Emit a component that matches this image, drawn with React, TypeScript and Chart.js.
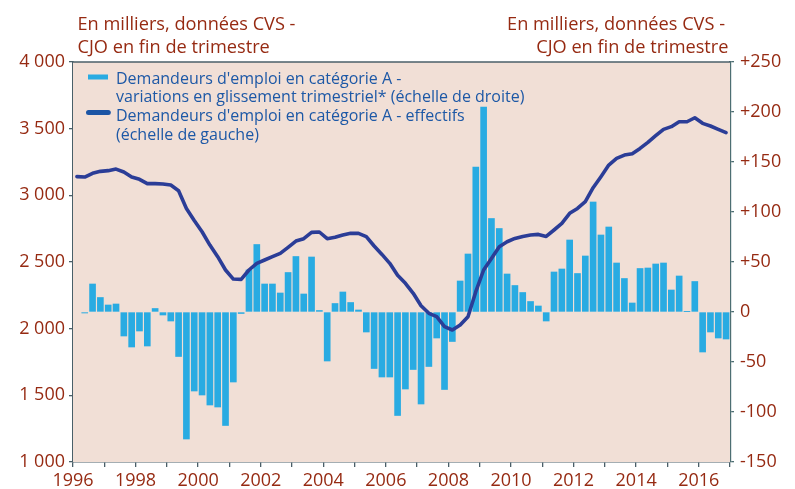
import React, { useEffect, useRef } from 'react';
import { Chart, registerables } from 'chart.js';

Chart.register(...registerables);

// ---- Data (quarterly, 1996 T1 -> 2016 T4) ----
const startYear = 1996;
const endYear = 2017;

// Demandeurs d'emploi en catégorie A - effectifs (milliers, échelle de gauche)
const effectifs = [
  3140, 3137, 3165, 3180, 3185, 3197, 3175, 3137, 3120, 3088,
  3088, 3085, 3077, 3035, 2902, 2812, 2727, 2627, 2540, 2440,
  2372, 2370, 2440, 2490, 2515, 2540, 2565, 2610, 2657, 2675,
  2722, 2725, 2675, 2685, 2702, 2715, 2715, 2690, 2620, 2557,
  2490, 2400, 2340, 2265, 2172, 2115, 2090, 2015, 1990, 2027,
  2090, 2277, 2440, 2527, 2615, 2652, 2677, 2692, 2702, 2707,
  2692, 2740, 2790, 2865, 2902, 2952, 3057, 3140, 3227, 3277,
  3302, 3312, 3352, 3397, 3447, 3495, 3515, 3552, 3552, 3582,
  3540, 3520, 3495, 3470,
];

// Variations en glissement trimestriel (milliers, échelle de droite)
const variations: (number | null)[] = [
  null, -1, 28, 14.5, 7, 8, -24, -35, -19, -34,
  3.5, -3, -9, -44.5, -127, -79, -83, -93, -95, -113.5,
  -70, -1.5, 42, 67.5, 28, 28, 19, 39.5, 55.5, 18,
  55, 1.5, -49, 8.5, 20, 9.5, 2, -20, -56.5, -65,
  -65, -103.5, -77, -57.5, -92, -54.5, -26, -77.5, -29.5, 31,
  58, 145, 205, 93.5, 83.5, 38, 26.5, 19.5, 10.5, 6,
  -9, 40, 43, 72, 38.5, 56, 110, 77, 85, 49,
  33.5, 9, 43.5, 44, 48, 49, 22, 36, 0.4, 30.5,
  -40, -20, -26, -27,
];

const leftAxis = { min: 1000, max: 4000, step: 500 };
const rightAxis = { min: -150, max: 250, step: 50 };

const titleLines = ['En milliers, données CVS -', 'CJO en fin de trimestre'];
const legendBarLines = [
  "Demandeurs d'emploi en catégorie A -",
  'variations en glissement trimestriel* (échelle de droite)',
];
const legendLineLines = [
  "Demandeurs d'emploi en catégorie A - effectifs",
  '(échelle de gauche)',
];

// ---- Styles ----
const FONT = '"Open Sans", "Noto Sans", sans-serif';
const RED = '#962a12';
const LEGEND_BLUE = '#1d58a6';
const BAR_COLOR = '#29abe2';
const LINE_COLOR = '#2b3d97';
const SWATCH_DARK = '#1c55a5';
const AXIS_COLOR = '#4a5f68';
const AXIS_RIGHT = '#4d6e72';
const PLOT_BG = '#f1dfd6';

const decorPlugin = {
  id: 'decor',
  beforeDatasetsDraw(chart: any) {
    const { ctx, chartArea: a } = chart;
    ctx.save();
    ctx.fillStyle = PLOT_BG;
    ctx.fillRect(a.left, a.top, a.right - a.left, a.bottom - a.top);
    ctx.restore();
  },
  afterDraw(chart: any) {
    const { ctx, chartArea: a } = chart;
    ctx.save();
    // top border
    ctx.strokeStyle = AXIS_COLOR;
    ctx.lineWidth = 1.3;
    ctx.beginPath();
    ctx.moveTo(a.left, a.top);
    ctx.lineTo(a.right, a.top);
    ctx.stroke();

    // titles
    ctx.fillStyle = RED;
    ctx.font = `18.2px ${FONT}`;
    ctx.textBaseline = 'alphabetic';
    ctx.textAlign = 'left';
    ctx.fillText(titleLines[0], 77.5, 30);
    ctx.fillText(titleLines[1], 77.5, 52.5);
    ctx.textAlign = 'right';
    ctx.fillText(titleLines[0], 725, 30);
    ctx.fillText(titleLines[1], 728.5, 52.5);

    // legend
    ctx.fillStyle = BAR_COLOR;
    ctx.fillRect(88, 74.5, 20, 5);
    ctx.strokeStyle = SWATCH_DARK;
    ctx.lineWidth = 5;
    ctx.lineCap = 'round';
    ctx.beginPath();
    ctx.moveTo(88.5, 112.5);
    ctx.lineTo(108.3, 112.5);
    ctx.stroke();

    ctx.fillStyle = LEGEND_BLUE;
    ctx.font = `16px ${FONT}`;
    ctx.textAlign = 'left';
    ctx.fillText(legendBarLines[0], 116, 83.5);
    ctx.fillText(legendBarLines[1], 116, 102);
    ctx.fillText(legendLineLines[0], 116, 121);
    ctx.fillText(legendLineLines[1], 116, 140);
    ctx.restore();
  },
};

function formatThousands(v: number): string {
  const th = Math.floor(v / 1000);
  const rest = Math.round(v % 1000);
  return th > 0 ? `${th} ${String(rest).padStart(3, '0')}` : String(rest);
}

export default function App() {
  const ref = useRef<HTMLCanvasElement>(null);

  useEffect(() => {
    if (!ref.current) return;
    const xs = effectifs.map((_, i) => startYear + (i + 0.5) / 4);
    const chart = new Chart(ref.current, {
      type: 'bar',
      data: {
        datasets: [
          {
            type: 'line',
            label: legendLineLines.join(' '),
            data: xs.map((x, i) => ({ x, y: effectifs[i] })),
            yAxisID: 'y',
            xAxisID: 'x',
            borderColor: LINE_COLOR,
            borderWidth: 3.6,
            pointRadius: 0,
            tension: 0,
            borderJoinStyle: 'round',
            borderCapStyle: 'round',
            order: 0,
          } as any,
          {
            type: 'bar',
            label: legendBarLines.join(' '),
            data: xs.map((x, i) => ({ x, y: variations[i] })),
            yAxisID: 'y1',
            xAxisID: 'x',
            backgroundColor: BAR_COLOR,
            barThickness: 6,
            order: 1,
          } as any,
        ],
      },
      options: {
        responsive: false,
        animation: false,
        layout: { padding: { top: 62, left: 0, right: 0, bottom: 0 } },
        plugins: { legend: { display: false }, tooltip: { enabled: false } },
        scales: {
          x: {
            type: 'linear',
            min: startYear,
            max: endYear,
            offset: false,
            position: 'bottom',
            grid: {
              display: true,
              drawOnChartArea: false,
              drawTicks: true,
              tickLength: 5,
              color: AXIS_COLOR,
              lineWidth: 1.3,
              offset: false,
            },
            border: { display: true, color: AXIS_COLOR, width: 1.6 },
            ticks: {
              stepSize: 1,
              autoSkip: false,
              maxRotation: 0,
              minRotation: 0,
              color: RED,
              padding: 3,
              font: { family: FONT, size: 18 },
              callback: (v: any) => (Number(v) % 2 === 0 ? String(v) : ''),
            },
            afterFit: (s: any) => {
              s.height = 27;
            },
          },
          y: {
            type: 'linear',
            position: 'left',
            min: leftAxis.min,
            max: leftAxis.max,
            grid: {
              display: true,
              drawOnChartArea: false,
              drawTicks: true,
              tickLength: 4,
              color: AXIS_COLOR,
              lineWidth: 1.3,
            },
            border: { display: true, color: AXIS_COLOR, width: 1.6 },
            ticks: {
              stepSize: leftAxis.step,
              color: RED,
              padding: 4,
              font: { family: FONT, size: 18 },
              callback: (v: any) => formatThousands(Number(v)),
            },
            afterFit: (s: any) => {
              s.width = 73;
            },
          },
          y1: {
            type: 'linear',
            position: 'right',
            min: rightAxis.min,
            max: rightAxis.max,
            grid: {
              display: true,
              drawOnChartArea: false,
              drawTicks: true,
              tickLength: 4,
              color: AXIS_RIGHT,
              lineWidth: 1.3,
            },
            border: { display: true, color: AXIS_RIGHT, width: 2.2 },
            ticks: {
              stepSize: rightAxis.step,
              color: RED,
              padding: 6,
              font: { family: FONT, size: 18 },
              callback: (v: any) => {
                const n = Number(v);
                return n > 0 ? `+${n}` : String(n);
              },
            },
            afterFit: (s: any) => {
              s.width = 65;
            },
          },
        },
      } as any,
      plugins: [decorPlugin],
    });
    return () => chart.destroy();
  }, []);

  return (
    <div style={{ position: 'fixed', left: 0, top: 0, width: 795, height: 489, background: '#ffffff' }}>
      <canvas ref={ref} width={795} height={489} style={{ display: 'block', width: 795, height: 489 }} />
    </div>
  );
}
